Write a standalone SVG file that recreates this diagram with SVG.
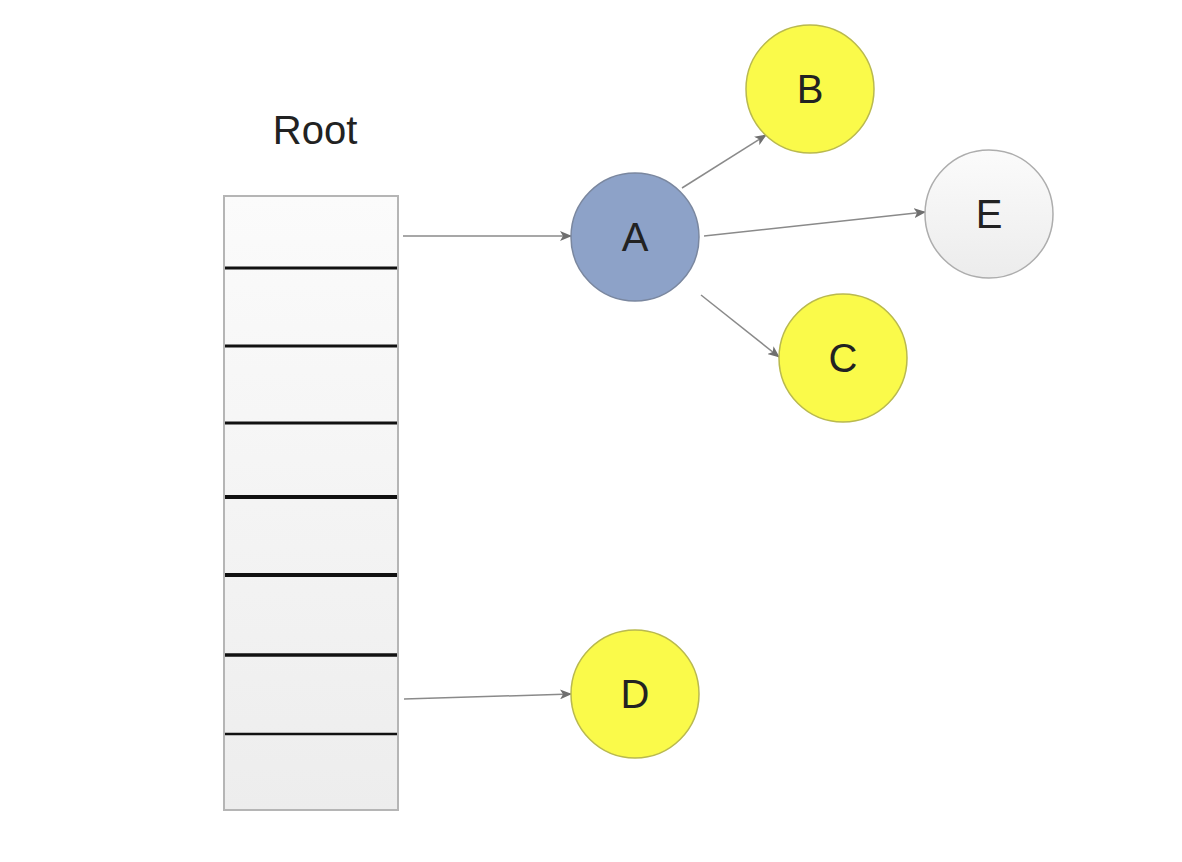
<svg xmlns="http://www.w3.org/2000/svg" width="1182" height="862" viewBox="0 0 1182 862">
<defs>
<linearGradient id="rootGrad" x1="0" y1="0" x2="0" y2="1">
<stop offset="0" stop-color="#fbfbfb"/><stop offset="1" stop-color="#ededed"/>
</linearGradient>
<linearGradient id="eGrad" x1="0" y1="0" x2="0" y2="1">
<stop offset="0" stop-color="#fbfbfb"/><stop offset="1" stop-color="#ececec"/>
</linearGradient>
<marker id="arr" markerWidth="12" markerHeight="10" refX="11" refY="5" orient="auto" markerUnits="userSpaceOnUse">
<path d="M0,0 L12,5 L0,10 L3,5 Z" fill="#6f6f6f"/>
</marker>
</defs>
<style>
.lbl{font-family:"Liberation Sans",Arial,sans-serif;font-size:40px;fill:#222;text-anchor:middle;dominant-baseline:central}
.yellow{fill:#fafa4a;stroke:#b9b94e;stroke-width:1.5}
.div{stroke:#111;stroke-width:3}
.conn{stroke:#8a8a8a;stroke-width:1.5;fill:none;marker-end:url(#arr)}
</style>
<rect width="1182" height="862" fill="#ffffff"/>
<g id="root">
<text x="315" y="130" class="lbl">Root</text>
<rect x="224" y="196" width="174" height="614" fill="url(#rootGrad)" stroke="#b5b5b5" stroke-width="2"/>
<line class="div" x1="225" y1="268" x2="397" y2="268"/>
<line class="div" x1="225" y1="346" x2="397" y2="346"/>
<line class="div" x1="225" y1="423" x2="397" y2="423"/>
<line class="div" x1="225" y1="497" x2="397" y2="497" style="stroke-width:4"/>
<line class="div" x1="225" y1="575" x2="397" y2="575" style="stroke-width:4"/>
<line class="div" x1="225" y1="655" x2="397" y2="655" style="stroke-width:3.5"/>
<line class="div" x1="225" y1="734" x2="397" y2="734" style="stroke-width:2.5"/>
</g>
<g id="connectors">
<line class="conn" x1="403" y1="236" x2="571" y2="236"/>
<line class="conn" x1="682" y1="188" x2="766" y2="135"/>
<line class="conn" x1="704" y1="236" x2="925" y2="212"/>
<line class="conn" x1="701" y1="295" x2="779" y2="357"/>
<line class="conn" x1="404" y1="699" x2="571" y2="694"/>
</g>
<g id="A">
<circle cx="635" cy="237" r="64" fill="#8da2c8" stroke="#7a879f" stroke-width="1.5"/>
<text x="635" y="237" class="lbl">A</text>
</g>
<g id="B">
<circle cx="810" cy="89" r="64" class="yellow"/>
<text x="810" y="89" class="lbl">B</text>
</g>
<g id="E">
<circle cx="989" cy="214" r="64" fill="url(#eGrad)" stroke="#adadad" stroke-width="1.5"/>
<text x="989" y="214" class="lbl">E</text>
</g>
<g id="C">
<circle cx="843" cy="358" r="64" class="yellow"/>
<text x="843" y="358" class="lbl">C</text>
</g>
<g id="D">
<circle cx="635" cy="694" r="64" class="yellow"/>
<text x="635" y="694" class="lbl">D</text>
</g>
</svg>
